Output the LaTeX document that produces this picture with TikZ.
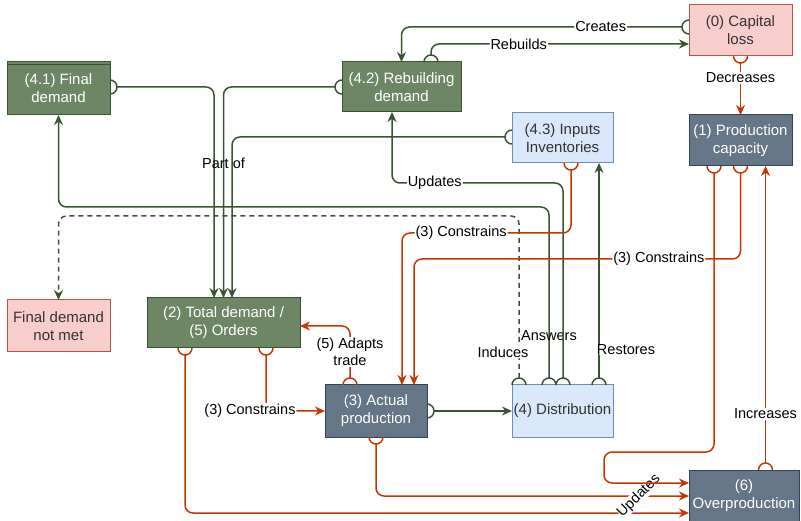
\documentclass[tikz,border=0pt]{standalone}
\usepackage{fontspec}
\setmainfont{Liberation Sans}
\usetikzlibrary{arrows.meta,calc}

\definecolor{gline}{HTML}{3A5431}
\definecolor{rline}{HTML}{C73500}
\definecolor{pinkfill}{HTML}{F8CECC}
\definecolor{pinkdraw}{HTML}{B85450}
\definecolor{greenfill}{HTML}{6D8764}
\definecolor{greendraw}{HTML}{3A5431}
\definecolor{slatefill}{HTML}{647687}
\definecolor{slatedraw}{HTML}{314354}
\definecolor{bluefill}{HTML}{DAE8FC}
\definecolor{bluedraw}{HTML}{6C8EBF}
\definecolor{darktext}{HTML}{333333}

\tikzset{
  box/.style={rectangle, inner sep=0pt, outer sep=0pt, line width=1pt,
    align=center, font=\fontsize{15}{18}\selectfont},
  pinkbox/.style={box, fill=pinkfill, draw=pinkdraw, text=darktext},
  greenbox/.style={box, fill=greenfill, draw=greendraw, text=white},
  slatebox/.style={box, fill=slatefill, draw=slatedraw, text=white},
  bluebox/.style={box, fill=bluefill, draw=bluedraw, text=darktext},
  conn/.style={line width=1.5pt, rounded corners=8pt,
    -{Stealth[length=10pt,width=9pt]}},
  gconn/.style={conn, draw=gline},
  rconn/.style={conn, draw=rline},
  dashconn/.style={dash pattern=on 5pt off 4pt},
  lbl/.style={fill=white, inner sep=1pt, text=black, align=center,
    font=\fontsize{14.5}{17}\selectfont},
  lblclear/.style={lbl, fill=none},
}

% open half circle at a connector's source; also defines <name>o at its apex
\newcommand\halfcirc[3]{%
  \draw[line width=1.5pt, #3] (#1) ++({#2-90}:7) arc[start angle={#2-90}, delta angle=180, radius=7];
  \coordinate (#1o) at ($(#1)+(#2:7)$);}

\begin{document}
\begin{tikzpicture}[x=1pt, y=-1pt]
\useasboundingbox (0,0) rectangle (801,521);

% boxes
\node[pinkbox, minimum width=103pt, minimum height=51pt] (cap) at (740.5,30.5) {(0) Capital\\loss};
\node[slatebox, minimum width=103pt, minimum height=51pt] (prod) at (740.5,140.5) {(1) Production\\capacity};
\node[bluebox, minimum width=101pt, minimum height=50pt] (inv) at (562.5,138) {(4.3) Inputs\\Inventories};
\node[greenbox, minimum width=119pt, minimum height=50pt] (reb) at (401.5,87) {(4.2) Rebuilding\\demand};
\node[greenbox, minimum width=103pt, minimum height=53pt] (fin) at (58.5,88.5) {(4.1) Final\\demand};
\draw[greendraw, line width=0.7pt] ($(fin.north west)+(0,2.6)$) -- ($(fin.north east)+(0,2.6)$);
\node[pinkbox, minimum width=103pt, minimum height=52pt] (notmet) at (58.5,326) {Final demand\\not met};
\node[greenbox, minimum width=153pt, minimum height=50pt] (tot) at (223.5,323) {(2) Total demand /\\(5) Orders};
\node[slatebox, minimum width=102pt, minimum height=52pt] (act) at (376,411) {(3) Actual\\production};
\node[bluebox, minimum width=101pt, minimum height=52pt] (dist) at (562.5,411) {(4) Distribution};
\node[slatebox, minimum width=110pt, minimum height=52pt] (over) at (744,496) {(6)\\Overproduction};

% connector sources
\coordinate (c1) at ($(cap.west)+(0,-3.5)$);
\coordinate (c2) at ($(reb.north)+(29.5,0)$);
\coordinate (c3) at (cap.south);
\coordinate (c4) at ($(fin.east)+(0,-1.5)$);
\coordinate (c5) at (reb.west);
\coordinate (c6) at ($(inv.west)+(0,-1)$);
\coordinate (c7) at ($(dist.north)+(-13.5,0)$);
\coordinate (c8) at ($(dist.north)+(0.5,0)$);
\coordinate (c9) at ($(dist.north)+(-43.5,0)$);
\coordinate (c10) at ($(dist.north)+(36.5,0)$);
\coordinate (c11) at ($(inv.south)+(8.5,0)$);
\coordinate (c12) at (prod.south);
\coordinate (c13) at ($(prod.south)+(-26.5,0)$);
\coordinate (c14) at ($(over.north)+(21.5,0)$);
\coordinate (c15) at (act.south);
\coordinate (c16) at ($(tot.south)+(-38.5,0)$);
\coordinate (c17) at ($(tot.south)+(42.5,0)$);
\coordinate (c18) at ($(act.north)+(-26,0)$);
\coordinate (c19) at (act.east);

% connector targets
\coordinate (t2) at ($(cap.west)+(0,13.5)$);
\coordinate (t4) at ($(tot.north)+(-9.5,0)$);
\coordinate (t6) at ($(tot.north)+(8.5,0)$);
\coordinate (t8) at ($(reb.south)+(-9.5,0)$);
\coordinate (t10) at ($(inv.south)+(36.5,0)$);
\coordinate (t11) at ($(act.north)+(26,0)$);
\coordinate (t12) at ($(act.north)+(38,0)$);
\coordinate (t13) at ($(over.west)+(0,-13)$);
\coordinate (t14) at ($(prod.south)+(25,0)$);
\coordinate (t16) at ($(over.west)+(0,17)$);
\coordinate (t18) at ($(tot.east)+(0,3)$);

% green links
\halfcirc{c1}{180}{gline}
\draw[gconn] (c1o) -- node[lbl, pos=0.29]{Creates} (c1o -| reb.north) -- (reb.north);

\halfcirc{c2}{-90}{gline}
\draw[gconn] (c2o) -- (c2o |- t2) -- node[lbl, pos=0.34]{Rebuilds} (t2);

\halfcirc{c4}{0}{gline}
\draw[gconn] (c4o) -- (c4o -| t4) -- (t4);

\halfcirc{c5}{180}{gline}
\draw[gconn] (c5o) -- (c5o -| tot.north) -- node[lblclear, pos=0.36]{Part of} (tot.north);

\halfcirc{c6}{180}{gline}
\draw[gconn] (c6o) -- (c6o -| t6) -- (t6);

\halfcirc{c7}{-90}{gline}
\draw[gconn] (c7o) -- node[lblclear, pos=0.25]{Answers} (549,207) -- (58.5,207) -- (fin.south);

\halfcirc{c8}{-90}{gline}
\draw[gconn] (c8o) -- (563,183) -- node[lbl, pos=0.75]{Updates} (392,183) -- (t8);

\halfcirc{c9}{-90}{gline}
\draw[gconn, dashconn] (c9o) -- node[lbl, pos=0.16, xshift=-16pt]{Induces} (519,216) -- (58.5,216) -- (notmet.north);

\halfcirc{c10}{-90}{gline}
\draw[gconn] (c10o) -- node[lbl, pos=0.13, xshift=27pt]{Restores} (t10);

\halfcirc{c19}{0}{gline}
\draw[gconn] (c19o) -- (dist.west);

% red links
\halfcirc{c3}{90}{rline}
\draw[rconn] (c3o) -- node[lbl, pos=0.29]{Decreases} (prod.north);

\halfcirc{c11}{90}{rline}
\draw[rconn] (c11o) -- (571,233) -- node[lbl, pos=0.65]{(3) Constrains} (402,233) -- (t11);

\halfcirc{c12}{90}{rline}
\draw[rconn] (c12o) -- (740.5,259) -- node[lbl, pos=0.25]{(3) Constrains} (414,259) -- (t12);

\halfcirc{c14}{-90}{rline}
\draw[rconn] (c14o) -- node[lbl, pos=0.165]{Increases} (t14);

\halfcirc{c17}{90}{rline}
\draw[rconn] (c17o) -- (266,411) node[lbl, xshift=-16pt]{(3) Constrains} -- (act.west);

\halfcirc{c18}{-90}{rline}
\draw[rconn] (c18o) -- node[lbl, pos=0.5]{(5) Adapts\\trade} (350,326) -- (t18);

\halfcirc{c16}{90}{rline}
\draw[rconn] (c16o) -- (185,513) -- (t16);

\halfcirc{c15}{90}{rline}
\draw[rconn] (c15o) -- (376,496) -- node[lbl, pos=0.84, rotate=45, inner sep=0.3pt]{Updates} (over.west);

\halfcirc{c13}{90}{rline}
\draw[rconn] (c13o) -- (714,452) -- (604,452) -- (604,483) -- (t13);

\end{tikzpicture}
\end{document}
